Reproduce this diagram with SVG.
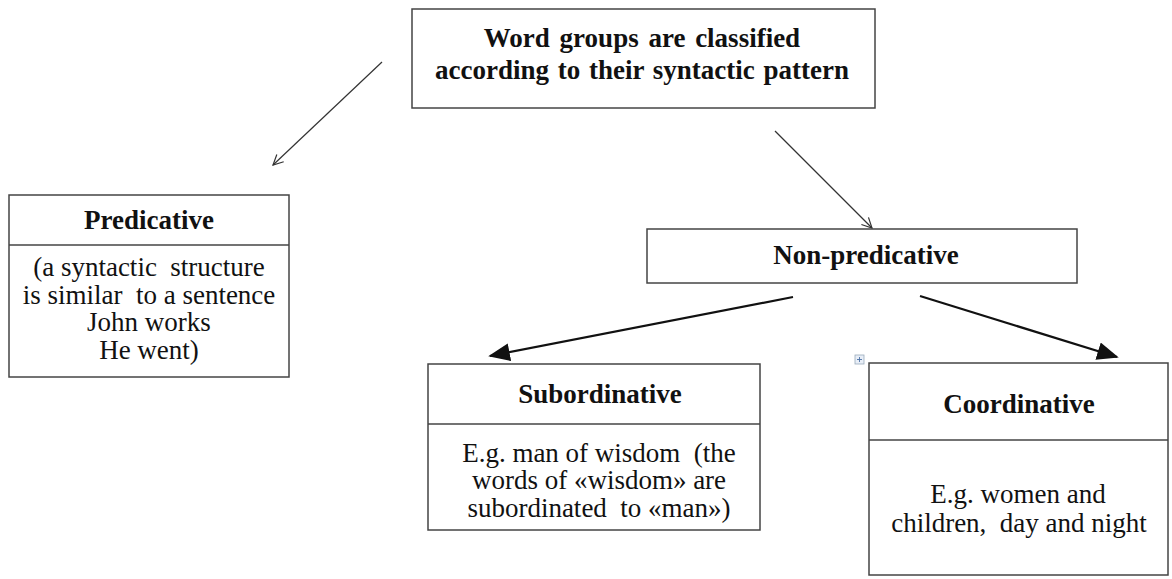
<svg xmlns="http://www.w3.org/2000/svg" width="1172" height="579" viewBox="0 0 1172 579">
  <defs>
    <marker id="open" viewBox="0 0 12 12" refX="11" refY="6" markerWidth="12" markerHeight="12" markerUnits="userSpaceOnUse" orient="auto">
      <path d="M1,1 L11,6 L1,11" fill="none" stroke="#333" stroke-width="1.2"/>
    </marker>
    <marker id="solid" viewBox="0 0 12 10" refX="11" refY="5" markerWidth="22" markerHeight="18" markerUnits="userSpaceOnUse" orient="auto">
      <path d="M0,0 L12,5 L0,10 Z" fill="#111"/>
    </marker>
    <style>
      .box { fill: #fff; stroke: #444; stroke-width: 1.5; }
      .div { stroke: #444; stroke-width: 1.5; }
      .t { font-family: "Liberation Serif", "Times New Roman", serif; font-size: 27px; fill: #111; text-anchor: middle; white-space: pre; }
      .b { font-weight: bold; }
      .thin { stroke: #333; stroke-width: 1.2; fill: none; }
      .thick { stroke: #111; stroke-width: 2.2; fill: none; }
    </style>
  </defs>
  <rect width="1172" height="579" fill="#fff"/>

  <g id="connectors">
    <line class="thin" x1="382" y1="62" x2="273" y2="165" marker-end="url(#open)"/>
    <line class="thin" x1="775" y1="131" x2="872" y2="228" marker-end="url(#open)"/>
    <line class="thick" x1="793" y1="297" x2="490" y2="356" marker-end="url(#solid)"/>
    <line class="thick" x1="920" y1="296" x2="1117" y2="357" marker-end="url(#solid)"/>
  </g>

  <g id="root">
    <rect class="box" x="412" y="9" width="463" height="99"/>
    <text class="t b" x="642" y="47" word-spacing="3">Word groups are classified</text>
    <text class="t b" x="642" y="79" word-spacing="2">according to their syntactic pattern</text>
  </g>

  <g id="predicative">
    <rect class="box" x="9" y="195" width="280" height="182"/>
    <line class="div" x1="9" y1="245" x2="289" y2="245"/>
    <text class="t b" x="149" y="229">Predicative</text>
    <text class="t" x="149" y="276">(a syntactic  structure</text>
    <text class="t" x="149" y="304">is similar  to a sentence</text>
    <text class="t" x="149" y="331">John works</text>
    <text class="t" x="149" y="359">He went)</text>
  </g>

  <g id="non-predicative">
    <rect class="box" x="647" y="229" width="430" height="54"/>
    <text class="t b" x="866" y="264">Non-predicative</text>
  </g>

  <g id="subordinative">
    <rect class="box" x="428" y="364" width="332" height="166"/>
    <line class="div" x1="428" y1="424" x2="760" y2="424"/>
    <text class="t b" x="600" y="403">Subordinative</text>
    <text class="t" x="599" y="462">E.g. man of wisdom  (the</text>
    <text class="t" x="599" y="489">words of «wisdom» are</text>
    <text class="t" x="599" y="517">subordinated  to «man»)</text>
  </g>

  <g id="coordinative">
    <rect class="box" x="869" y="363" width="299" height="212"/>
    <line class="div" x1="869" y1="440" x2="1168" y2="440"/>
    <text class="t b" x="1019" y="413">Coordinative</text>
    <text class="t" x="1018" y="503">E.g. women and</text>
    <text class="t" x="1019" y="532">children,  day and night</text>
    <!-- table move handle -->
    <rect x="855" y="355" width="9" height="9" fill="#e8eef7" stroke="#9ab" stroke-width="0.8"/>
    <path d="M859.5,357 V362 M857,359.5 H862" stroke="#4a6fa5" stroke-width="0.9"/>
  </g>
</svg>
